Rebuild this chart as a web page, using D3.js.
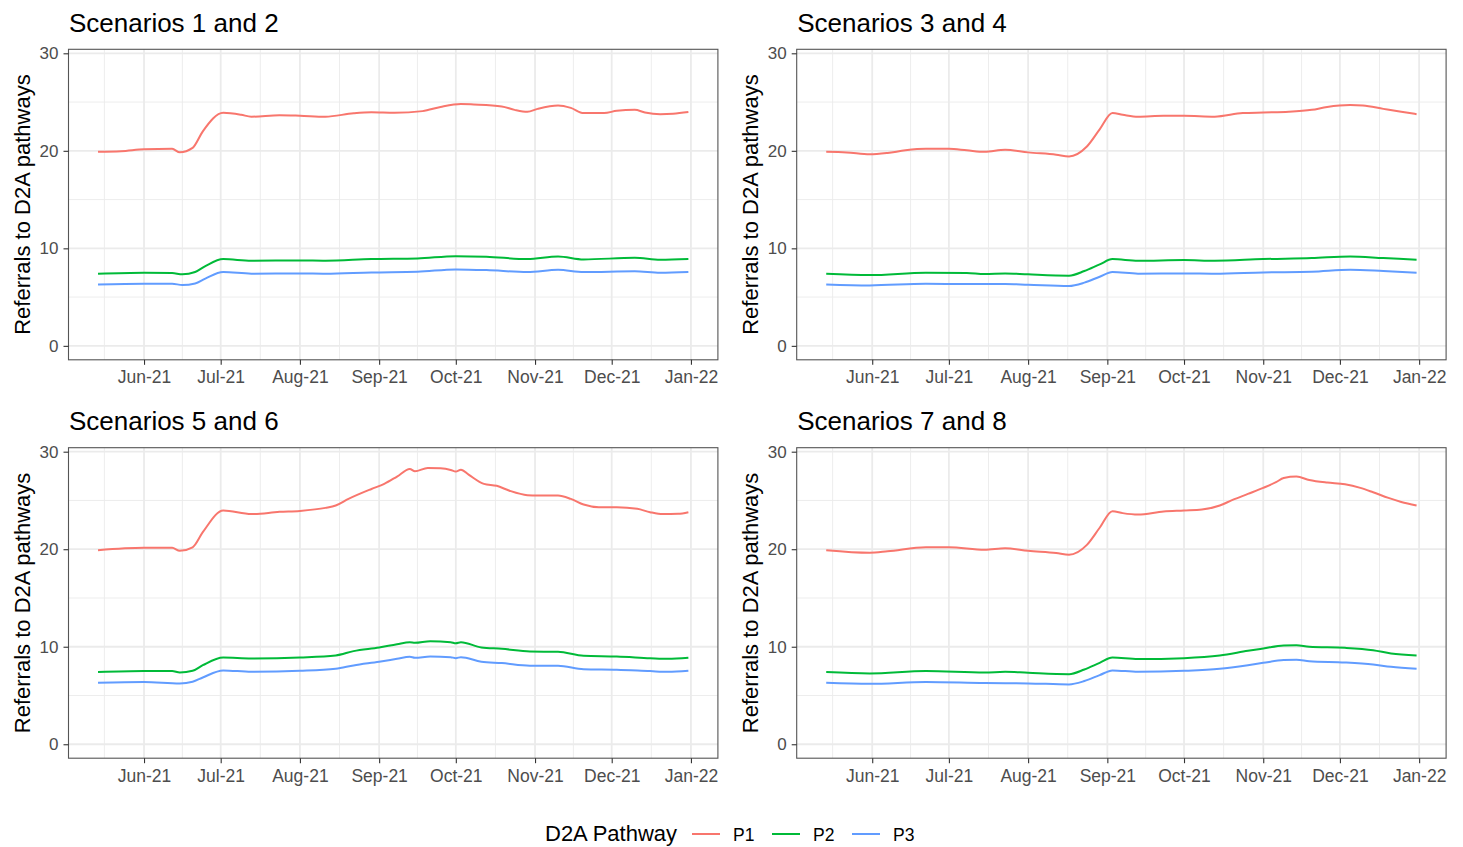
<!DOCTYPE html>
<html>
<head>
<meta charset="utf-8">
<script src="https://cdn.jsdelivr.net/npm/d3@7"></script>
<style>
  html, body { margin: 0; padding: 0; background: #fff; }
  svg { display: block; font-family: "Liberation Sans", Arial, Helvetica, sans-serif; }
</style>
</head>
<body>
<svg id="chart" width="1463" height="847"></svg>
<script>
// ---------------- DATA ----------------
const panelTitles = ["Scenarios 1 and 2", "Scenarios 3 and 4", "Scenarios 5 and 6", "Scenarios 7 and 8"];
const pathways = ["P1", "P2", "P3"];
const pathwayColors = ["#F8766D", "#00BA38", "#619CFF"];
const yTicks = [0, 10, 20, 30];
const xTickMonths = ["2021-06-01","2021-07-01","2021-08-01","2021-09-01","2021-10-01","2021-11-01","2021-12-01","2022-01-01"];
const yLabel = "Referrals to D2A pathways";
const legendTitle = "D2A Pathway";

// Scenarios 1 and 2
const s12_P1 = [["2021-05-14",19.9],["2021-05-23",19.95],["2021-06-01",20.15],["2021-06-12",20.2],["2021-06-15",19.85],["2021-06-20",20.3],["2021-06-24",22.0],["2021-07-02",23.9],["2021-07-09",23.7],["2021-07-13",23.5],["2021-07-24",23.65],["2021-08-01",23.6],["2021-08-11",23.5],["2021-08-22",23.85],["2021-08-29",23.95],["2021-09-07",23.9],["2021-09-18",24.07],["2021-09-25",24.5],["2021-10-03",24.8],["2021-10-08",24.75],["2021-10-19",24.55],["2021-10-24",24.2],["2021-10-29",24.0],["2021-11-02",24.3],["2021-11-10",24.65],["2021-11-15",24.4],["2021-11-20",23.87],["2021-11-28",23.87],["2021-12-03",24.1],["2021-12-10",24.2],["2021-12-14",23.93],["2021-12-20",23.76],["2021-12-25",23.8],["2021-12-31",23.97]];
const s12_P2 = [["2021-05-14",7.4],["2021-06-01",7.5],["2021-06-12",7.47],["2021-06-16",7.33],["2021-06-21",7.57],["2021-06-25",8.18],["2021-07-02",8.9],["2021-07-13",8.73],["2021-08-01",8.76],["2021-08-11",8.73],["2021-08-29",8.9],["2021-09-16",8.97],["2021-10-01",9.2],["2021-10-13",9.14],["2021-10-29",8.9],["2021-11-10",9.17],["2021-11-20",8.86],["2021-12-10",9.03],["2021-12-20",8.83],["2021-12-31",8.9]];
const s12_P3 = [["2021-05-14",6.3],["2021-06-01",6.37],["2021-06-12",6.37],["2021-06-16",6.24],["2021-06-21",6.4],["2021-06-25",6.9],["2021-07-02",7.57],["2021-07-13",7.4],["2021-08-01",7.43],["2021-08-11",7.4],["2021-08-29",7.53],["2021-09-16",7.6],["2021-10-01",7.84],["2021-10-13",7.77],["2021-10-29",7.57],["2021-11-10",7.8],["2021-11-20",7.57],["2021-12-10",7.64],["2021-12-20",7.5],["2021-12-31",7.57]];

// Scenarios 3 and 4
const s34_P1 = [["2021-05-14",19.9],["2021-05-22",19.84],["2021-05-31",19.64],["2021-06-07",19.78],["2021-06-14",20.05],["2021-06-22",20.2],["2021-07-01",20.2],["2021-07-08",20.05],["2021-07-15",19.9],["2021-07-23",20.1],["2021-08-01",19.84],["2021-08-12",19.6],["2021-08-17",19.43],["2021-08-24",20.45],["2021-08-29",22.2],["2021-09-03",23.87],["2021-09-07",23.7],["2021-09-13",23.5],["2021-09-23",23.6],["2021-10-01",23.6],["2021-10-13",23.5],["2021-10-24",23.87],["2021-11-01",23.93],["2021-11-11",24.0],["2021-11-20",24.2],["2021-11-26",24.5],["2021-12-05",24.7],["2021-12-10",24.65],["2021-12-18",24.3],["2021-12-25",24.0],["2021-12-31",23.76]];
const s34_P2 = [["2021-05-14",7.4],["2021-05-31",7.26],["2021-06-22",7.5],["2021-07-08",7.47],["2021-07-15",7.36],["2021-07-23",7.43],["2021-08-01",7.33],["2021-08-17",7.2],["2021-08-23",7.67],["2021-08-29",8.35],["2021-09-03",8.9],["2021-09-13",8.73],["2021-10-01",8.8],["2021-10-13",8.73],["2021-11-01",8.9],["2021-11-20",9.0],["2021-12-05",9.17],["2021-12-18",9.0],["2021-12-31",8.83]];
const s34_P3 = [["2021-05-14",6.3],["2021-05-31",6.2],["2021-06-22",6.37],["2021-07-08",6.34],["2021-07-23",6.34],["2021-08-01",6.27],["2021-08-17",6.14],["2021-08-23",6.48],["2021-08-29",7.09],["2021-09-03",7.57],["2021-09-13",7.4],["2021-10-01",7.43],["2021-10-13",7.4],["2021-11-01",7.53],["2021-11-20",7.6],["2021-12-05",7.8],["2021-12-18",7.67],["2021-12-31",7.5]];

// Scenarios 5 and 6
const s56_P1 = [["2021-05-14",19.9],["2021-06-01",20.15],["2021-06-12",20.15],["2021-06-15",19.84],["2021-06-20",20.2],["2021-06-24",21.75],["2021-07-02",23.97],["2021-07-13",23.6],["2021-07-24",23.83],["2021-08-01",23.93],["2021-08-11",24.24],["2021-08-15",24.48],["2021-08-20",25.16],["2021-08-29",26.18],["2021-09-03",26.7],["2021-09-08",27.45],["2021-09-13",28.23],["2021-09-15",27.99],["2021-09-20",28.33],["2021-09-25",28.3],["2021-09-29",28.13],["2021-10-01",27.96],["2021-10-03",28.16],["2021-10-06",27.65],["2021-10-12",26.7],["2021-10-17",26.5],["2021-10-22",26.0],["2021-10-29",25.54],["2021-11-02",25.5],["2021-11-10",25.5],["2021-11-15",25.16],["2021-11-20",24.58],["2021-11-26",24.31],["2021-12-03",24.31],["2021-12-11",24.14],["2021-12-16",23.8],["2021-12-21",23.6],["2021-12-27",23.63],["2021-12-31",23.8]];
const s56_P2 = [["2021-05-14",7.4],["2021-06-01",7.5],["2021-06-12",7.5],["2021-06-15",7.36],["2021-06-20",7.53],["2021-06-24",8.11],["2021-07-02",8.9],["2021-07-13",8.8],["2021-08-01",8.9],["2021-08-15",9.1],["2021-08-22",9.55],["2021-09-01",9.92],["2021-09-08",10.26],["2021-09-13",10.47],["2021-09-15",10.4],["2021-09-21",10.57],["2021-09-29",10.47],["2021-10-01",10.36],["2021-10-03",10.47],["2021-10-11",9.92],["2021-10-19",9.79],["2021-10-30",9.51],["2021-11-10",9.48],["2021-11-20",9.07],["2021-12-03",9.0],["2021-12-16",8.83],["2021-12-23",8.76],["2021-12-31",8.86]];
const s56_P3 = [["2021-05-14",6.3],["2021-06-01",6.38],["2021-06-15",6.24],["2021-06-20",6.41],["2021-06-24",6.85],["2021-07-02",7.57],["2021-07-13",7.43],["2021-08-01",7.53],["2021-08-15",7.74],["2021-08-22",8.08],["2021-09-01",8.46],["2021-09-08",8.76],["2021-09-13",8.97],["2021-09-15",8.86],["2021-09-21",9.0],["2021-09-29",8.93],["2021-10-01",8.83],["2021-10-03",8.93],["2021-10-11",8.46],["2021-10-19",8.32],["2021-10-30",8.05],["2021-11-10",8.05],["2021-11-20",7.7],["2021-12-03",7.64],["2021-12-16",7.5],["2021-12-23",7.43],["2021-12-31",7.53]];

// Scenarios 7 and 8
const s78_P1 = [["2021-05-14",19.9],["2021-05-31",19.64],["2021-06-07",19.78],["2021-06-22",20.2],["2021-07-01",20.2],["2021-07-15",19.95],["2021-07-23",20.1],["2021-08-01",19.84],["2021-08-12",19.6],["2021-08-17",19.43],["2021-08-24",20.45],["2021-08-29",22.2],["2021-09-03",23.9],["2021-09-07",23.7],["2021-09-13",23.55],["2021-09-23",23.87],["2021-10-01",23.97],["2021-10-08",24.07],["2021-10-15",24.48],["2021-10-20",25.06],["2021-10-26",25.67],["2021-11-01",26.29],["2021-11-06",26.87],["2021-11-09",27.3],["2021-11-14",27.45],["2021-11-19",27.1],["2021-11-26",26.83],["2021-12-03",26.66],["2021-12-09",26.29],["2021-12-14",25.84],["2021-12-20",25.26],["2021-12-25",24.85],["2021-12-31",24.48]];
const s78_P2 = [["2021-05-14",7.4],["2021-05-31",7.26],["2021-06-22",7.5],["2021-07-15",7.36],["2021-07-23",7.43],["2021-08-01",7.33],["2021-08-17",7.19],["2021-08-23",7.67],["2021-08-29",8.35],["2021-09-03",8.9],["2021-09-13",8.73],["2021-10-01",8.83],["2021-10-15",9.1],["2021-10-26",9.58],["2021-11-01",9.82],["2021-11-09",10.13],["2021-11-14",10.16],["2021-11-19",9.99],["2021-12-03",9.89],["2021-12-14",9.65],["2021-12-21",9.31],["2021-12-31",9.1]];
const s78_P3 = [["2021-05-14",6.3],["2021-05-31",6.2],["2021-06-22",6.38],["2021-07-15",6.27],["2021-08-01",6.24],["2021-08-17",6.14],["2021-08-23",6.48],["2021-08-29",7.09],["2021-09-03",7.57],["2021-09-13",7.43],["2021-10-01",7.53],["2021-10-15",7.74],["2021-10-26",8.11],["2021-11-01",8.35],["2021-11-09",8.63],["2021-11-14",8.66],["2021-11-19",8.52],["2021-12-03",8.39],["2021-12-14",8.18],["2021-12-21",7.94],["2021-12-31",7.74]];

const panelSeries = [
  [s12_P1, s12_P2, s12_P3],
  [s34_P1, s34_P2, s34_P3],
  [s56_P1, s56_P2, s56_P3],
  [s78_P1, s78_P2, s78_P3]
];

// ---------------- LAYOUT ----------------
const parse = d3.utcParse("%Y-%m-%d");
const svg = d3.select("#chart");
svg.append("rect").attr("width", 1463).attr("height", 847).attr("fill", "#fff");

const PW = 649.4, PH = 310.5;
const panelPos = [
  {x: 68.5, y: 49.3}, {x: 796.7, y: 49.3},
  {x: 68.5, y: 447.7}, {x: 796.7, y: 447.7}
];

// shared x domain from data extent with 5% expansion
const [dMin, dMax] = d3.extent(panelSeries.flat().flat().map(d => parse(d[0])));
const span = dMax - dMin;
const x = d3.scaleUtc().domain([new Date(+dMin - span * 0.05), new Date(+dMax + span * 0.05)]).range([0, PW]);
const y = d3.scaleLinear().domain([-1.43, 30.41]).range([PH, 0]);

const majorX = xTickMonths.map(parse);
const allMonths = d3.utcMonth.range(parse("2021-05-01"), parse("2022-02-02"));
const minorX = [];
for (let i = 0; i < allMonths.length - 1; i++) {
  minorX.push(new Date((+allMonths[i] + +allMonths[i + 1]) / 2));
}
const minorXIn = minorX.filter(d => x(d) >= 0 && x(d) <= PW);
const minorY = [5, 15, 25];

const line = d3.line().x(d => x(parse(d[0]))).y(d => y(d[1])).curve(d3.curveMonotoneX);
const fmt = d3.utcFormat("%b-%y");

panelPos.forEach((p, i) => {
  const g = svg.append("g").attr("transform", `translate(${p.x},${p.y})`);

  // grid minor
  g.selectAll(".mgx").data(minorXIn).join("line")
    .attr("x1", d => x(d)).attr("x2", d => x(d)).attr("y1", 0).attr("y2", PH)
    .attr("stroke", "#EBEBEB").attr("stroke-width", 0.9);
  g.selectAll(".mgy").data(minorY).join("line")
    .attr("x1", 0).attr("x2", PW).attr("y1", d => y(d)).attr("y2", d => y(d))
    .attr("stroke", "#EBEBEB").attr("stroke-width", 0.9);
  // grid major
  g.selectAll(".Mgx").data(majorX).join("line")
    .attr("x1", d => x(d)).attr("x2", d => x(d)).attr("y1", 0).attr("y2", PH)
    .attr("stroke", "#EBEBEB").attr("stroke-width", 1.8);
  g.selectAll(".Mgy").data(yTicks).join("line")
    .attr("x1", 0).attr("x2", PW).attr("y1", d => y(d)).attr("y2", d => y(d))
    .attr("stroke", "#EBEBEB").attr("stroke-width", 1.8);

  // series
  panelSeries[i].forEach((s, k) => {
    g.append("path").datum(s).attr("d", line)
      .attr("fill", "none").attr("stroke", pathwayColors[k])
      .attr("stroke-width", 2).attr("stroke-linejoin", "round").attr("stroke-linecap", "butt");
  });

  // border
  g.append("rect").attr("x", 0).attr("y", 0).attr("width", PW).attr("height", PH)
    .attr("fill", "none").attr("stroke", "#555").attr("stroke-width", 1.1);

  // axes
  const ax = g.append("g").attr("transform", `translate(0,${PH})`)
    .call(d3.axisBottom(x).tickValues(majorX).tickFormat(fmt).tickSize(5).tickPadding(6));
  ax.select(".domain").remove();
  ax.selectAll(".tick line").attr("stroke", "#333").attr("stroke-width", 1.1);
  ax.selectAll(".tick text").attr("fill", "#4D4D4D").style("font-size", "17.5px")
    .style("font-family", "'Liberation Sans', Arial, sans-serif");

  const ay = g.append("g")
    .call(d3.axisLeft(y).tickValues(yTicks).tickFormat(d3.format("d")).tickSize(5).tickPadding(5));
  ay.select(".domain").remove();
  ay.selectAll(".tick line").attr("stroke", "#333").attr("stroke-width", 1.1);
  ay.selectAll(".tick text").attr("fill", "#4D4D4D").style("font-size", "17px")
    .style("font-family", "'Liberation Sans', Arial, sans-serif");

  // title
  svg.append("text").attr("x", p.x + 0.5).attr("y", p.y - 17.8)
    .attr("font-size", 26).attr("fill", "#000").text(panelTitles[i]);

  // y label
  svg.append("text")
    .attr("transform", `translate(${p.x - 38.5},${p.y + PH / 2}) rotate(-90)`)
    .attr("text-anchor", "middle").attr("font-size", 22).attr("fill", "#000")
    .text(yLabel);
});

// legend
const lg = svg.append("g");
lg.append("text").attr("x", 545).attr("y", 841).attr("font-size", 22).attr("fill", "#000").text(legendTitle);
const keyX = [692, 772, 852];
pathways.forEach((pname, k) => {
  lg.append("line").attr("x1", keyX[k]).attr("x2", keyX[k] + 28).attr("y1", 834).attr("y2", 834)
    .attr("stroke", pathwayColors[k]).attr("stroke-width", 2);
  lg.append("text").attr("x", keyX[k] + 41).attr("y", 841).attr("font-size", 17.5).attr("fill", "#000").text(pname);
});
</script>
</body>
</html>
